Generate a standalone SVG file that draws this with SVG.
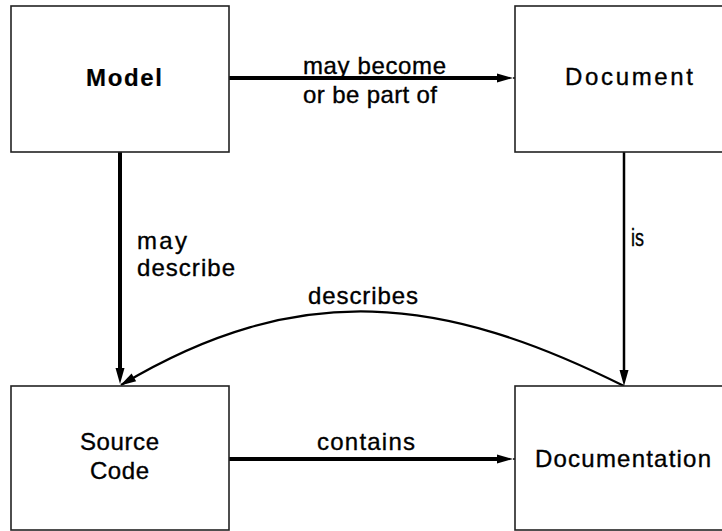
<svg xmlns="http://www.w3.org/2000/svg" width="722" height="531" viewBox="0 0 722 531">
<style>
.box{fill:#fff;stroke:#222;stroke-width:1.6}
.lbl{font-family:"Liberation Sans",Arial,sans-serif;font-size:24px;fill:#000;stroke:#000;stroke-width:0.35}
.bold{font-weight:bold;stroke-width:0.2}
.edge{fill:none;stroke:#000}
</style>
<defs>
<marker id="arrow" markerUnits="userSpaceOnUse" markerWidth="16" markerHeight="9" refX="0" refY="4.5" orient="auto" overflow="visible">
<path d="M0,0 L16,4.5 L0,9 Z" fill="#000"/>
</marker>
<marker id="arrowC" markerUnits="userSpaceOnUse" markerWidth="16" markerHeight="10" refX="15" refY="5" orient="auto" overflow="visible">
<path d="M0,0.5 L16,5 L0,9.5 Z" fill="#000"/>
</marker>
</defs>
<rect width="722" height="531" fill="#fff"/>
<g id="connectors">
<path class="edge" d="M229,78 H497" stroke-width="4" marker-end="url(#arrow)"/>
<path class="edge" d="M513,78 H515" stroke-width="1.5"/>
<path class="edge" d="M120,150 V368" stroke-width="4" marker-end="url(#arrow)"/>
<path class="edge" d="M624,150 V370" stroke-width="2.5" marker-end="url(#arrow)"/>
<path class="edge" d="M229,459 H497" stroke-width="4" marker-end="url(#arrow)"/>
<path class="edge" d="M513,459 H515" stroke-width="1.5"/>
<path class="edge" d="M624,386 C444,296 300,278 121,385" stroke-width="2.2" marker-end="url(#arrowC)"/>
<text class="lbl" x="303" y="74" textLength="143" lengthAdjust="spacing">may become</text>
<text class="lbl" x="303" y="103" textLength="134" lengthAdjust="spacing">or be part of</text>
<text class="lbl" x="137" y="249" textLength="50" lengthAdjust="spacing">may</text>
<text class="lbl" x="137" y="276" textLength="98" lengthAdjust="spacing">describe</text>
<text class="lbl" x="631" y="246" style="font-size:23px" textLength="13" lengthAdjust="spacingAndGlyphs">is</text>
<text class="lbl" x="308" y="304" textLength="110" lengthAdjust="spacing">describes</text>
<text class="lbl" x="317" y="450" textLength="98" lengthAdjust="spacing">contains</text>
</g>
<g id="model">
<rect class="box" x="11" y="6" width="218" height="146"/>
<text class="lbl bold" x="86" y="86" textLength="76" lengthAdjust="spacing">Model</text>
</g>
<g id="document">
<rect class="box" x="515" y="6" width="220" height="146"/>
<text class="lbl" x="565" y="85" textLength="128" lengthAdjust="spacing">Document</text>
</g>
<g id="source-code">
<rect class="box" x="11" y="386" width="218" height="144"/>
<text class="lbl" x="80" y="450" textLength="79" lengthAdjust="spacing">Source</text>
<text class="lbl" x="90" y="479" textLength="59" lengthAdjust="spacing">Code</text>
</g>
<g id="documentation">
<rect class="box" x="515" y="386" width="220" height="144"/>
<text class="lbl" x="535" y="467" textLength="176" lengthAdjust="spacing">Documentation</text>
</g>
</svg>
